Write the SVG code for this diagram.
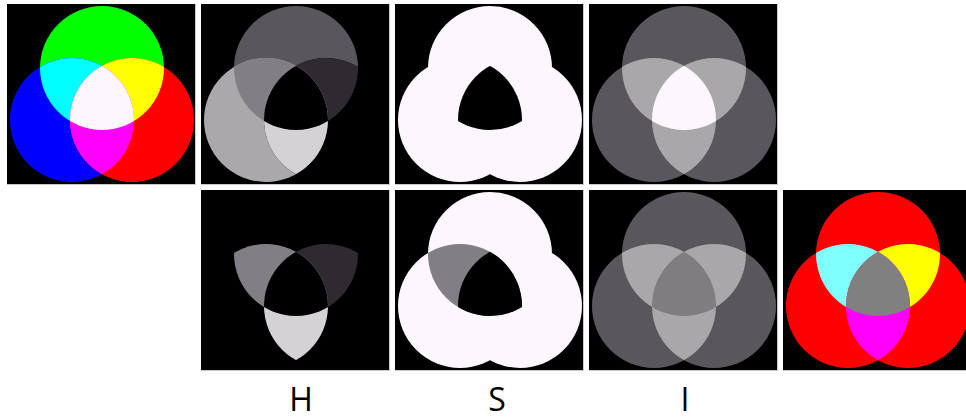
<svg xmlns="http://www.w3.org/2000/svg" xmlns:xlink="http://www.w3.org/1999/xlink" width="966" height="419" viewBox="0 0 966 419">
<style>
.frame{fill:#c9c9c9}
.bg{fill:#000}
.lbl{font-family:"Open Sans","Noto Sans","Liberation Sans",sans-serif;font-size:32px;fill:#000;text-anchor:middle}
</style>
<defs>
<circle id="cG" cx="95" cy="64" r="62"/>
<circle id="cB" cx="65" cy="116" r="62"/>
<circle id="cR" cx="125" cy="116" r="62"/>
<clipPath id="kG"><circle cx="95" cy="64" r="62"/></clipPath>
<clipPath id="kB"><circle cx="65" cy="116" r="62"/></clipPath>
<clipPath id="kR"><circle cx="125" cy="116" r="62"/></clipPath>
</defs>
<rect width="966" height="419" fill="#fff"/>

<!-- Panel: original RGB -->
<g id="rgb-original" transform="translate(7,4)">
<rect class="frame" x="0" y="0" width="189" height="181"/>
<rect class="bg" width="188" height="180"/>
<use href="#cG" fill="#00ff00"/>
<use href="#cB" fill="#0000ff"/>
<use href="#cR" fill="#ff0000"/>
<use href="#cG" clip-path="url(#kB)" fill="#00ffff"/>
<use href="#cG" clip-path="url(#kR)" fill="#ffff00"/>
<use href="#cB" clip-path="url(#kR)" fill="#ff00ff"/>
<g clip-path="url(#kR)"><use href="#cG" clip-path="url(#kB)" fill="#fdf6fd"/></g>
</g>

<!-- Panel: H -->
<g id="hue" transform="translate(201,4)">
<rect class="frame" x="0" y="0" width="189" height="181"/>
<rect class="bg" width="188" height="180"/>
<use href="#cG" fill="#59575b"/>
<use href="#cB" fill="#aba8ac"/>
<use href="#cR" fill="#000"/>
<use href="#cG" clip-path="url(#kB)" fill="#817f83"/>
<use href="#cG" clip-path="url(#kR)" fill="#2f2a30"/>
<use href="#cB" clip-path="url(#kR)" fill="#d4d2d5"/>
<g clip-path="url(#kR)"><use href="#cG" clip-path="url(#kB)" fill="#000"/></g>
</g>

<!-- Panel: S -->
<g id="saturation" transform="translate(395,4)">
<rect class="frame" x="0" y="0" width="189" height="181"/>
<rect class="bg" width="188" height="180"/>
<use href="#cG" fill="#fdf6fd"/>
<use href="#cB" fill="#fdf6fd"/>
<use href="#cR" fill="#fdf6fd"/>
<g clip-path="url(#kR)"><use href="#cG" clip-path="url(#kB)" fill="#000"/></g>
</g>

<!-- Panel: I -->
<g id="intensity" transform="translate(589,4)">
<rect class="frame" x="0" y="0" width="189" height="181"/>
<rect class="bg" width="188" height="180"/>
<use href="#cG" fill="#59575b"/>
<use href="#cB" fill="#59575b"/>
<use href="#cR" fill="#59575b"/>
<use href="#cG" clip-path="url(#kB)" fill="#aaa7ab"/>
<use href="#cG" clip-path="url(#kR)" fill="#aaa7ab"/>
<use href="#cB" clip-path="url(#kR)" fill="#aaa7ab"/>
<g clip-path="url(#kR)"><use href="#cG" clip-path="url(#kB)" fill="#fdf6fd"/></g>
</g>

<!-- Panel: H modified -->
<g id="hue-modified" transform="translate(201,190)">
<rect class="frame" x="0" y="0" width="189" height="181"/>
<rect class="bg" width="188" height="180"/>
<use href="#cG" clip-path="url(#kB)" fill="#817f83"/>
<use href="#cG" clip-path="url(#kR)" fill="#2f2a30"/>
<use href="#cB" clip-path="url(#kR)" fill="#d4d2d5"/>
<g clip-path="url(#kR)"><use href="#cG" clip-path="url(#kB)" fill="#000"/></g>
</g>

<!-- Panel: S modified -->
<g id="saturation-modified" transform="translate(395,190)">
<rect class="frame" x="0" y="0" width="189" height="181"/>
<rect class="bg" width="188" height="180"/>
<use href="#cG" fill="#fdf6fd"/>
<use href="#cB" fill="#fdf6fd"/>
<use href="#cR" fill="#fdf6fd"/>
<use href="#cG" clip-path="url(#kB)" fill="#817f83"/>
<g clip-path="url(#kR)"><use href="#cG" clip-path="url(#kB)" fill="#000"/></g>
</g>

<!-- Panel: I modified -->
<g id="intensity-modified" transform="translate(589,190)">
<rect class="frame" x="0" y="0" width="189" height="181"/>
<rect class="bg" width="188" height="180"/>
<use href="#cG" fill="#59575b"/>
<use href="#cB" fill="#59575b"/>
<use href="#cR" fill="#59575b"/>
<use href="#cG" clip-path="url(#kB)" fill="#aaa7ab"/>
<use href="#cG" clip-path="url(#kR)" fill="#aaa7ab"/>
<use href="#cB" clip-path="url(#kR)" fill="#aaa7ab"/>
<g clip-path="url(#kR)"><use href="#cG" clip-path="url(#kB)" fill="#807d81"/></g>
</g>

<!-- Panel: RGB result -->
<g id="rgb-result" transform="translate(783,190)">
<rect class="frame" x="0" y="0" width="189" height="181"/>
<rect class="bg" width="188" height="180"/>
<use href="#cG" fill="#ff0000"/>
<use href="#cB" fill="#ff0000"/>
<use href="#cR" fill="#ff0000"/>
<use href="#cG" clip-path="url(#kB)" fill="#80ffff"/>
<use href="#cG" clip-path="url(#kR)" fill="#ffff00"/>
<use href="#cB" clip-path="url(#kR)" fill="#ff00ff"/>
<g clip-path="url(#kR)"><use href="#cG" clip-path="url(#kB)" fill="#808080"/></g>
</g>

<g id="labels">
<text class="lbl" x="301" y="411">H</text>
<text class="lbl" x="497" y="411">S</text>
<text class="lbl" x="685" y="411">I</text>
</g>
</svg>
